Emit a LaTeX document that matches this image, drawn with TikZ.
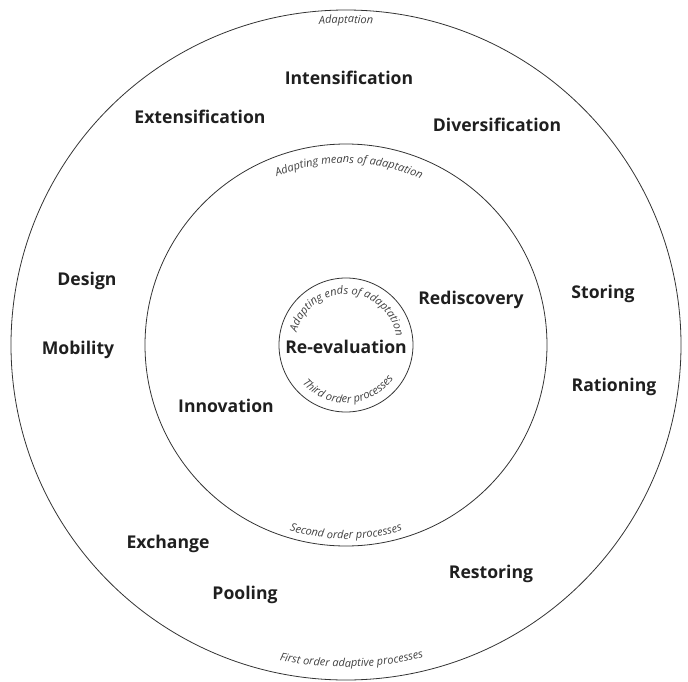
\documentclass[tikz,border=0pt]{standalone}
\usepackage{fontspec}
\setmainfont{Open Sans}
\usetikzlibrary{decorations.text}
\newcommand{\arcfont}{\fontsize{11}{13}\selectfont\itshape}
\begin{document}
\begin{tikzpicture}[x=1pt,y=1pt]
    \tikzstyle{procname}=[font=\fontsize{17.6}{20}\selectfont\bfseries, text=black!88, anchor=base, inner sep=0]
    \tikzstyle{ring}=[draw=black!80, line width=0.8pt]
    \tikzstyle{arctext}=[decorate, decoration={text along path, text align=center, text color=black!75}]

    \useasboundingbox (-346,-336) rectangle (342,345);

    \draw[ring] (0,0) circle (335);
    \draw[ring] (0,0) circle (201);
    \draw[ring] (0,0) circle (67);

    \path[arctext, decoration={text={|\arcfont|Adaptation}}]
        (110:322) arc[start angle=110, end angle=70, radius=322];
    \path[arctext, decoration={text={|\arcfont|First order adaptive processes}}]
        (244:322) arc[start angle=244, end angle=298, radius=322];
    \path[arctext, decoration={text={|\arcfont|Adapting means of adaptation}}]
        (140:182) arc[start angle=140, end angle=38, radius=182];
    \path[arctext, decoration={text={|\arcfont|Second order processes}}]
        (230:194) arc[start angle=230, end angle=310, radius=194];
    \path[arctext, decoration={text={|\arcfont|Adapting ends of adaptation}}]
        (189.5:51) arc[start angle=189.5, end angle=-14.5, radius=51];
    \path[arctext, decoration={text={|\arcfont|Third order processes}}]
        (163:58) arc[start angle=163, end angle=383, radius=58];

    \node[procname] (intens) at (3,261) {Intensification};
    \node[procname] (extens) at (-146,222) {Extensification};
    \node[procname] (divers) at (151,214) {Diversification};
    \node[procname] (design) at (-259,60) {Design};
    \node[procname] (mobil) at (-268,-9) {Mobility};
    \node[procname] (storing) at (257,47) {Storing};
    \node[procname] (ration) at (268,-46) {Rationing};
    \node[procname] (exch) at (-178,-203) {Exchange};
    \node[procname] (pool) at (-101,-254) {Pooling};
    \node[procname] (restor) at (145,-233) {Restoring};
    \node[procname] (redisc) at (125,41) {Rediscovery};
    \node[procname] (innov) at (-120,-67) {Innovation};
    \node[procname] (reeval) at (0,-8) {Re-evaluation};
\end{tikzpicture}
\end{document}
